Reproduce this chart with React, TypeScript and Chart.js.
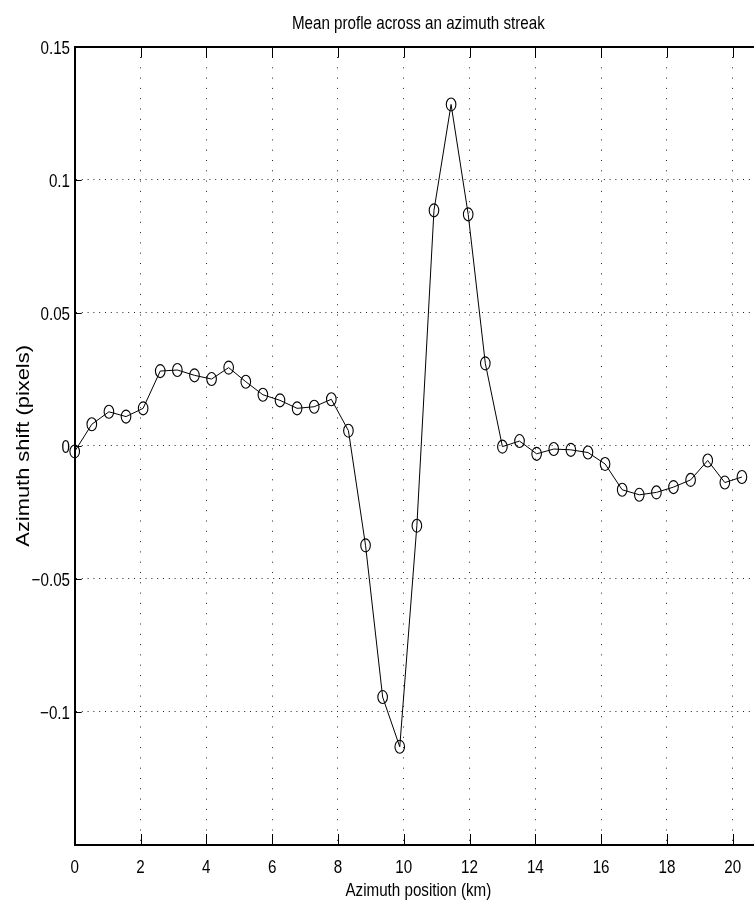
import React, { useEffect, useRef } from 'react';
import { Chart, registerables } from 'chart.js';

Chart.register(...registerables);

// ---- data ----
const positionsKm = [
  0, 0.52, 1.04, 1.56, 2.08, 2.6, 3.12, 3.64, 4.16, 4.68,
  5.2, 5.72, 6.24, 6.76, 7.28, 7.8, 8.32, 8.84, 9.36, 9.88,
  10.4, 10.92, 11.44, 11.96, 12.48, 13.0, 13.52, 14.04, 14.56, 15.08,
  15.6, 16.12, 16.64, 17.16, 17.68, 18.2, 18.72, 19.24, 19.76, 20.28,
];
const shiftPixels = [
  -0.0021, 0.0081, 0.0128, 0.011, 0.0141, 0.0281, 0.0285, 0.0265, 0.0251, 0.0294,
  0.0241, 0.0192, 0.0171, 0.0141, 0.0147, 0.0175, 0.0057, -0.0374, -0.0944, -0.1131,
  -0.030, 0.0885, 0.1283, 0.087, 0.031, -0.0003, 0.0018, -0.003, -0.0012, -0.0015,
  -0.0025, -0.0068, -0.0165, -0.0184, -0.0175, -0.0155, -0.0128, -0.0055, -0.0138, -0.0117,
];
const xTickValues = [0, 2, 4, 6, 8, 10, 12, 14, 16, 18, 20];
const xTickLabels = ['0', '2', '4', '6', '8', '10', '12', '14', '16', '18', '20'];
const yTickValues = [-0.1, -0.05, 0, 0.05, 0.1, 0.15];
const yTickLabels = ['\u22120.1', '\u22120.05', '0', '0.05', '0.1', '0.15'];
const titleText = 'Mean profle across an azimuth streak';
const xAxisLabel = 'Azimuth position (km)';
const yAxisLabel = 'Azimuth shift (pixels)';

const X_MIN = 0;
const X_MAX = 20.89;
const Y_MIN = -0.15;
const Y_MAX = 0.15;

const FONT_FAMILY = '"Liberation Sans", Arial, Helvetica, sans-serif';
const TEXT_SIZE = 18.5;
const NARROW = 0.82;

function drawNarrowText(
  ctx: CanvasRenderingContext2D,
  text: string,
  x: number,
  y: number,
  align: CanvasTextAlign,
) {
  ctx.save();
  ctx.translate(x, y);
  ctx.scale(NARROW, 1);
  ctx.font = `${TEXT_SIZE}px ${FONT_FAMILY}`;
  ctx.fillStyle = '#000';
  ctx.textAlign = align;
  ctx.textBaseline = 'alphabetic';
  ctx.fillText(text, 0, 0);
  ctx.restore();
}

const frameAndText = {
  id: 'frameAndText',
  afterDatasetsDraw(chart: any) {
    const { ctx } = chart;
    const meta = chart.getDatasetMeta(0);
    ctx.save();
    ctx.strokeStyle = '#000';
    ctx.lineWidth = 1.1;
    for (const el of meta.data) {
      ctx.beginPath();
      ctx.ellipse(el.x, el.y, 4.8, 6.5, 0, 0, Math.PI * 2);
      ctx.stroke();
    }
    ctx.restore();
  },
  afterDraw(chart: any) {
    const { ctx, chartArea, scales } = chart;
    const xs = scales.x;
    const ys = scales.y;
    ctx.save();
    ctx.strokeStyle = '#000';
    ctx.lineWidth = 1;
    ctx.beginPath();
    for (const v of xTickValues) {
      const px = Math.round(xs.getPixelForValue(v)) + 0.5;
      ctx.moveTo(px, chartArea.bottom);
      ctx.lineTo(px, chartArea.bottom - 11);
      ctx.moveTo(px, chartArea.top);
      ctx.lineTo(px, chartArea.top + 11);
    }
    for (const v of yTickValues) {
      const py = Math.round(ys.getPixelForValue(v)) + 0.5;
      ctx.moveTo(chartArea.left, py);
      ctx.lineTo(chartArea.left + 7, py);
    }
    ctx.stroke();
    ctx.restore();

    // tick labels
    xTickValues.forEach((v, i) => {
      drawNarrowText(ctx, xTickLabels[i], xs.getPixelForValue(v), chartArea.bottom + 28, 'center');
    });
    yTickValues.forEach((v, i) => {
      drawNarrowText(ctx, yTickLabels[i], chartArea.left - 4.7, ys.getPixelForValue(v) + 7.2, 'right');
    });
    const cx = (chartArea.left + chartArea.right) / 2;
    drawNarrowText(ctx, titleText, cx, 28.5, 'center');
    drawNarrowText(ctx, xAxisLabel, cx, 895.5, 'center');

    // y axis label, rotated
    const cy = (chartArea.top + chartArea.bottom) / 2;
    ctx.save();
    ctx.translate(29, cy);
    ctx.rotate(-Math.PI / 2);
    ctx.scale(1.15, 1);
    ctx.font = `19px ${FONT_FAMILY}`;
    ctx.fillStyle = '#000';
    ctx.textAlign = 'center';
    ctx.textBaseline = 'alphabetic';
    ctx.fillText(yAxisLabel, 0, 0);
    ctx.restore();
  },
};

export default function App() {
  const ref = useRef<HTMLCanvasElement | null>(null);

  useEffect(() => {
    if (!ref.current) return;

    const chart = new Chart(ref.current, {
      type: 'line',
      data: {
        datasets: [
          {
            data: positionsKm.map((x, i) => ({ x, y: shiftPixels[i] })),
            borderColor: '#000',
            borderWidth: 1,
            pointRadius: 0,
            tension: 0,
            fill: false,
            clip: false as any,
          },
        ],
      },
      options: {
        animation: false,
        responsive: false,
        devicePixelRatio: 1,
        layout: { padding: 0 },
        plugins: {
          legend: { display: false },
          tooltip: { enabled: false },
          title: { display: false },
        },
        scales: {
          x: {
            type: 'linear',
            position: 'bottom',
            min: X_MIN,
            max: X_MAX,
            afterBuildTicks: (s: any) => {
              s.ticks = xTickValues.map((value) => ({ value }));
            },
            afterFit: (s: any) => {
              s.height = 62;
            },
            grid: {
              display: true,
              color: '#222',
              lineWidth: 1,
              drawTicks: false,
              tickLength: 0,
            },
            border: { display: true, color: '#000', width: 2, dash: [1, 9.3] as any },
            ticks: { display: false, autoSkip: false },
            title: { display: false },
          },
          x2: {
            type: 'linear',
            position: 'top',
            min: X_MIN,
            max: X_MAX,
            afterFit: (s: any) => {
              s.height = 46.7;
            },
            grid: { display: false, drawTicks: false },
            border: { display: true, color: '#000', width: 2 },
            ticks: { display: false },
            title: { display: false },
          },
          y: {
            type: 'linear',
            position: 'left',
            min: Y_MIN,
            max: Y_MAX,
            afterBuildTicks: (s: any) => {
              s.ticks = yTickValues.map((value) => ({ value }));
            },
            afterFit: (s: any) => {
              s.width = 74.7;
            },
            grid: {
              display: true,
              color: '#222',
              lineWidth: 1,
              drawTicks: false,
              tickLength: 0,
            },
            border: { display: true, color: '#000', width: 2, dash: [1, 4.8] as any },
            ticks: { display: false, autoSkip: false },
            title: { display: false },
          },
        },
      },
      plugins: [frameAndText],
    });

    return () => chart.destroy();
  }, []);

  return (
    <div
      style={{
        position: 'fixed',
        left: 0,
        top: 0,
        width: 754,
        height: 907,
        overflow: 'hidden',
        background: '#fff',
      }}
    >
      <canvas ref={ref} width={762} height={907} style={{ display: 'block' }} />
    </div>
  );
}
